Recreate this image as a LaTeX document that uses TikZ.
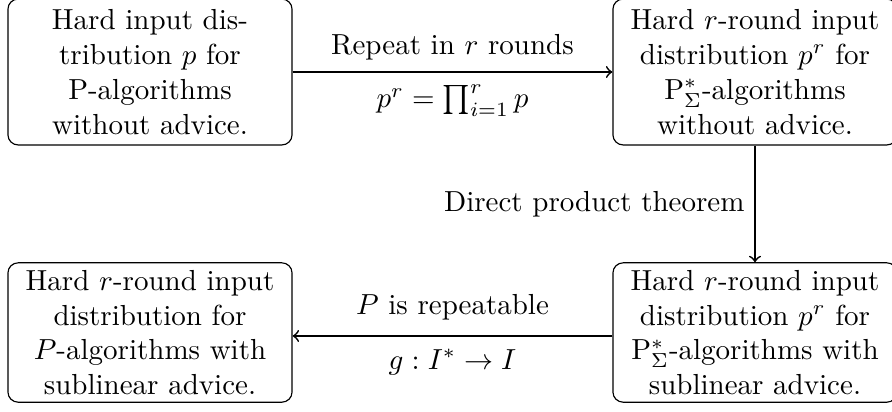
\documentclass[tikz,border=0pt]{standalone}
\usepackage{amsmath}
\begin{document}
\begin{tikzpicture}[x=0.3448pt,y=-0.3448pt,
  box/.style={draw,rounded corners=3.5pt,align=center,text width=91.3pt,
    inner xsep=3.33pt,inner ysep=2.5pt,minimum width=97.9pt},
  topbox/.style={box,minimum height=50.3pt},
  botbox/.style={box,minimum height=47.9pt},
  conn/.style={->,semithick}]
\useasboundingbox (0,0) rectangle (892,412);
\node[topbox] (tl) at (150,72) {Hard input dis-\\tribution $p$ for\\P-algorithms\\without advice.};
\node[topbox] (tr) at (755,72) {Hard $r$-round input\\distribution $p^r$ for\\$\mathrm{P}^*_\Sigma$-algorithms\\without advice.};
\node[botbox] (bl) at (150,332.5) {Hard $r$-round input\\distribution for\\$P$-algorithms with\\sublinear advice.};
\node[botbox] (br) at (755,332.5) {Hard $r$-round input\\distribution $p^r$ for\\$\mathrm{P}^*_\Sigma$-algorithms with\\sublinear advice.};
\draw[conn] (tl) -- node[above=0.6pt] (la) {Repeat in $r$ rounds} node[below=0.6pt] (lb) {$p^r=\prod_{i=1}^r p$} (tr);
\draw[conn] (tr) -- node[left] (lc) {Direct product theorem} (br);
\draw[conn] ([yshift=-1.2pt]br.west) -- node[above=2pt] (ld) {$P$ is repeatable} node[below=1pt] (le) {$g: I^*\to I$} ([yshift=-1.2pt]bl.east);
\end{tikzpicture}
\end{document}
